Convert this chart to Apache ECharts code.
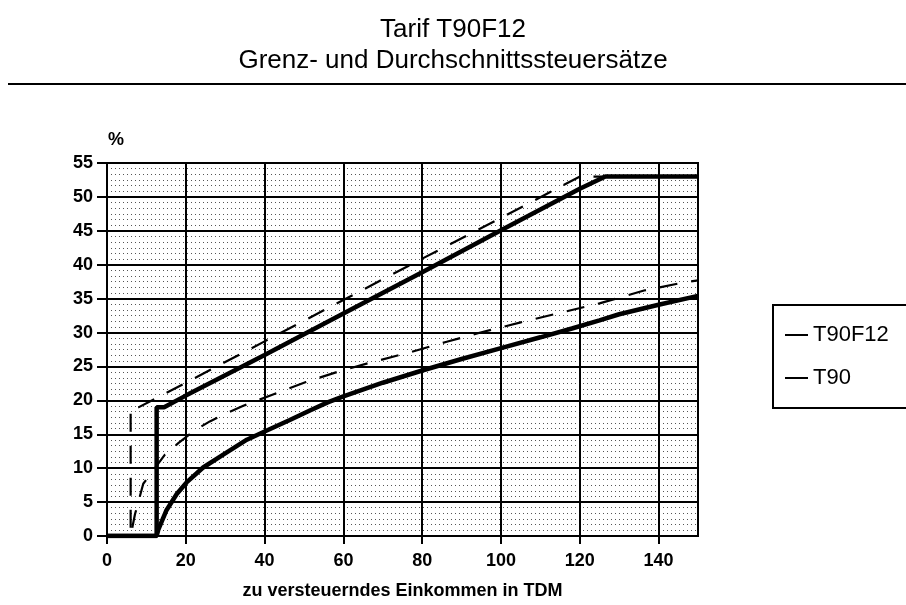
<!DOCTYPE html>
<html>
<head>
<meta charset="utf-8">
<script src="https://cdn.jsdelivr.net/npm/echarts@6/dist/echarts.min.js"></script>
<style>
  html, body { margin: 0; padding: 0; background: #fff; }
  #main { width: 906px; height: 605px; }
</style>
</head>
<body>
<div id="main"></div>
<script>
// Einkommen in TDM, Steuersatz in %
const grenzF12 = [[0, 0], [12.6, 0], [12.6, 19], [14.5, 19], [20, 20.7], [40, 26.7], [60, 32.8], [80, 38.9], [100, 45.1], [120, 51.2], [126.5, 53], [150, 53]]
const durchF12 = [[0, 0], [12.6, 0], [13, 0.9], [15.1, 3.8], [17.7, 6.2], [20.2, 7.9], [24.4, 10.1], [29.5, 12.0], [35.5, 14.2], [40, 15.4], [46.4, 17.1], [51.5, 18.5], [56, 19.7], [60, 20.6], [70, 22.6], [80, 24.4], [90, 26.1], [100, 27.7], [110, 29.3], [118, 30.6], [125, 31.8], [130, 32.7], [140, 34.1], [150, 35.4]]
const grenzT90 = [[0, 0], [6, 0], [6, 19], [8.1, 19], [20, 22.6], [40, 28.7], [60, 34.8], [80, 40.9], [100, 46.9], [120, 53], [150, 53]]
const durchT90 = [[0, 0], [6, 0], [7.1, 3.2], [9.2, 7.7], [14.7, 12], [18.1, 13.7], [22.3, 15.6], [26.1, 16.9], [30.4, 18.1], [34.6, 19.2], [41.8, 20.8], [50.5, 22.7], [59, 24.3], [67.7, 25.7], [77, 27.1], [86, 28.6], [94.8, 30], [105, 31.5], [115, 32.9], [125, 34.3], [136.3, 36.2], [145.7, 37.3], [150, 37.7]]
const legendNames = ['T90F12', 'T90']

const myChart = echarts.init(document.getElementById('main'), null, { renderer: 'canvas' })

const font = '"Liberation Sans", Arial, Helvetica, sans-serif'

const option = {
  backgroundColor: '#fff',
  animation: false,
  textStyle: { fontFamily: font, color: '#000' },
  title: {
    text: 'Tarif T90F12\nGrenz- und Durchschnittssteuersätze',
    left: 'center',
    top: 9,
    textStyle: { fontFamily: font, fontSize: 26, fontWeight: 'normal', lineHeight: 31, color: '#000' }
  },
  graphic: [
    {
      type: 'line',
      shape: { x1: 8, y1: 84, x2: 906, y2: 84 },
      style: { stroke: '#000', lineWidth: 2 }
    },
    {
      type: 'text',
      left: 108,
      top: 131,
      style: { text: '%', font: 'bold 18px ' + font, fill: '#000' }
    }
  ],
  legend: {
    data: legendNames,
    orient: 'vertical',
    left: 773,
    top: 305,
    borderColor: '#000',
    borderWidth: 2,
    padding: [18, 40, 18, 12],
    itemGap: 19,
    itemWidth: 23,
    itemHeight: 2,
    icon: 'rect',
    textStyle: { fontFamily: font, fontSize: 22, color: '#000', lineHeight: 24 }
  },
  grid: {
    left: 107,
    right: 208,
    top: 163,
    bottom: 62,
    show: true,
    borderColor: '#000',
    borderWidth: 2,
    backgroundColor: 'transparent'
  },
  xAxis: {
    type: 'value',
    min: 0,
    max: 150,
    interval: 20,
    name: 'zu versteuerndes Einkommen in TDM',
    nameLocation: 'middle',
    nameGap: 46,
    nameTextStyle: { fontFamily: font, fontSize: 18, fontWeight: 'bold', color: '#000' },
    axisLine: { show: true, lineStyle: { color: '#000', width: 2 } },
    axisTick: { show: true, length: 8, lineStyle: { color: '#000', width: 2 } },
    axisLabel: { showMaxLabel: false, margin: 16, fontFamily: font, fontSize: 18, fontWeight: 'bold', color: '#000' },
    splitLine: { show: true, lineStyle: { color: '#000', width: 2 } }
  },
  yAxis: {
    type: 'value',
    min: 0,
    max: 55,
    interval: 5,
    axisLine: { show: true, lineStyle: { color: '#000', width: 2 } },
    axisTick: { show: true, length: 10, lineStyle: { color: '#000', width: 2 } },
    axisLabel: { margin: 14, fontFamily: font, fontSize: 18, fontWeight: 'bold', color: '#000' },
    splitLine: { show: true, lineStyle: { color: '#000', width: 2 } },
    minorTick: { show: false, splitNumber: 6 },
    minorSplitLine: { show: true, lineStyle: { color: '#555', width: 1, type: [1, 3] } }
  },
  series: [
    {
      name: 'T90',
      type: 'line',
      data: grenzT90,
      showSymbol: false,
      color: '#000',
      lineStyle: { color: '#000', width: 2.2, type: [18, 14] },
      z: 3
    },
    {
      name: 'T90',
      type: 'line',
      data: durchT90,
      showSymbol: false,
      color: '#000',
      lineStyle: { color: '#000', width: 2.2, type: [18, 14] },
      z: 3
    },
    {
      name: 'T90F12',
      type: 'line',
      data: grenzF12,
      showSymbol: false,
      color: '#000',
      lineStyle: { color: '#000', width: 4.5 },
      z: 4
    },
    {
      name: 'T90F12',
      type: 'line',
      data: durchF12,
      showSymbol: false,
      color: '#000',
      lineStyle: { color: '#000', width: 4.5 },
      z: 4
    }
  ]
}

myChart.setOption(option)
window.addEventListener('resize', () => {
  myChart.resize()
})
</script>
</body>
</html>
